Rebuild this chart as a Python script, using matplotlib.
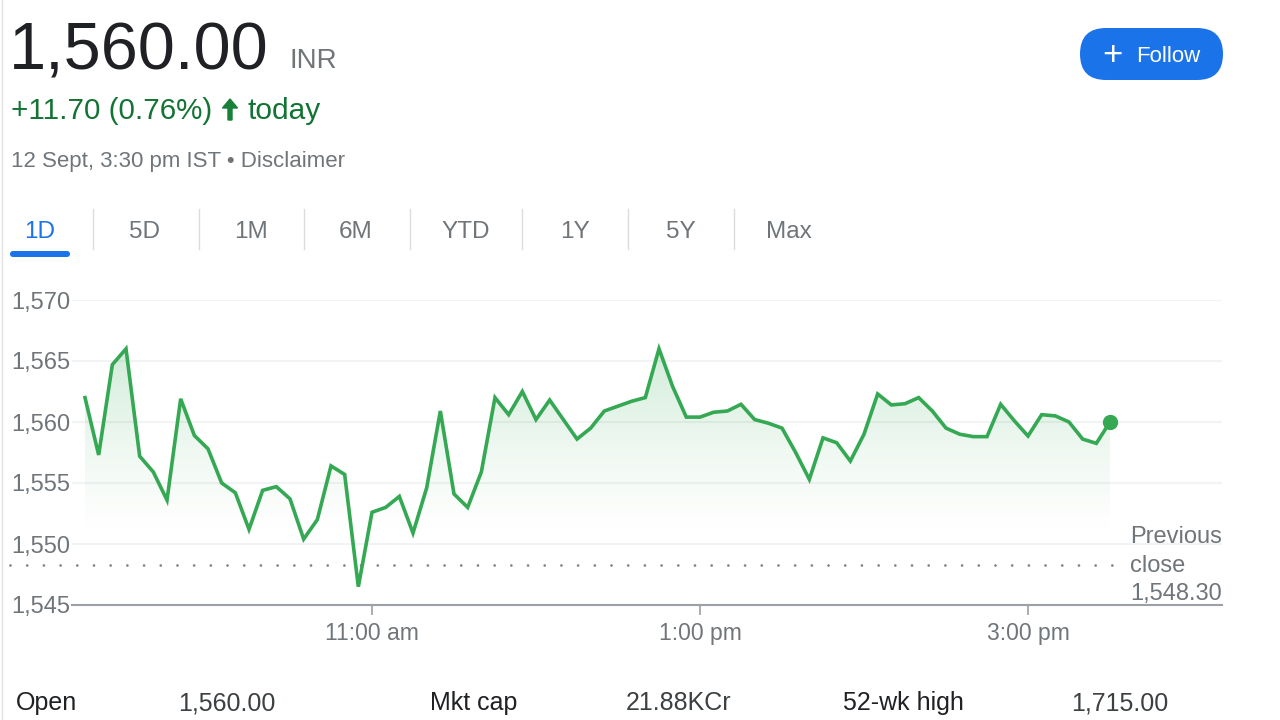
import numpy as np
import matplotlib.pyplot as plt
from matplotlib.colors import to_rgb
from matplotlib.patches import FancyBboxPatch, FancyArrow, PathPatch
from matplotlib.path import Path
from matplotlib.lines import Line2D
from matplotlib.transforms import blended_transform_factory

plt.rcParams['font.family'] = ['Liberation Sans', 'DejaVu Sans']

# 1D intraday prices, 5 minute steps from 9:15 am to 3:30 pm
prices = [1562.0, 1557.3, 1564.7, 1566.0, 1557.2, 1555.9, 1553.6, 1561.9, 1558.9, 1557.8,
          1555.0, 1554.2, 1551.2, 1554.4, 1554.7, 1553.7, 1550.4, 1552.0, 1556.4, 1555.7,
          1546.5, 1552.6, 1553.0, 1553.9, 1550.9, 1554.6, 1560.9, 1554.1, 1553.0, 1555.9,
          1562.0, 1560.6, 1562.5, 1560.2, 1561.8, 1560.2, 1558.6, 1559.5, 1560.9, 1561.3,
          1561.7, 1562.0, 1566.0, 1562.9, 1560.4, 1560.4, 1560.8, 1560.9, 1561.45, 1560.2,
          1559.9, 1559.5, 1557.5, 1555.3, 1558.7, 1558.3, 1556.8, 1559.0, 1562.3, 1561.4,
          1561.5, 1562.0, 1560.9, 1559.5, 1559.0, 1558.8, 1558.8, 1561.45, 1560.1, 1558.85,
          1560.6, 1560.5, 1560.0, 1558.6, 1558.25, 1560.0]
start_min = 9 * 60 + 15
minutes = start_min + 5 * np.arange(len(prices))

prev_close = 1548.30
y_ticks = [1545, 1550, 1555, 1560, 1565, 1570]
x_ticks = [11 * 60, 13 * 60, 15 * 60]
x_labels = ['11:00 am', '1:00 pm', '3:00 pm']

tabs = ['1D', '5D', '1M', '6M', 'YTD', '1Y', '5Y', 'Max']
stat_names = ['Open', 'Mkt cap', '52-wk high']
stat_values = ['1,560.00', '21.88KCr', '1,715.00']

GREEN = '#34a853'
W, H = 1280, 720


def fx(x):
    return x / W


def fy(y):
    return 1 - y / H


fig = plt.figure(figsize=(12.8, 7.2), dpi=100)
fig.patch.set_facecolor('white')

# --- header ---
fig.text(fx(9), fy(69), '1,560.00', fontsize=48, color='#202124', va='baseline')
fig.text(fx(289), fy(68), 'INR', fontsize=20, color='#70757a', va='baseline')
fig.text(fx(11), fy(119), '+11.70 (0.76%)', fontsize=21.3, color='#137333', va='baseline')
fig.patches.append(FancyArrow(2.30, (H - 120) / 100, 0, 0.21, width=0.04, head_width=0.15,
                              head_length=0.09, length_includes_head=True, color='#188038',
                              transform=fig.dpi_scale_trans))
fig.text(fx(248), fy(119), 'today', fontsize=21.5, color='#137333', va='baseline')
fig.text(fx(11), fy(167), '12 Sept, 3:30 pm IST \u2022 Disclaimer', fontsize=16,
         color='#70757a', va='baseline')

# follow button
fig.patches.append(FancyBboxPatch((10.80, (H - 80) / 100), 1.43, 0.52,
                                  boxstyle='round,pad=0,rounding_size=0.26',
                                  facecolor='#1a73e8', edgecolor='none',
                                  transform=fig.dpi_scale_trans))
fig.text(fx(1112), fy(56), '+', fontsize=25, color='white', ha='center', va='center')
fig.text(fx(1136), fy(62), 'Follow', fontsize=16, color='white', va='baseline')

# --- range tabs ---
tab_x = [40, 145, 251, 356, 466, 575, 681, 789]
sep_x = [93, 199, 304, 410, 522, 628, 734]
for name, x in zip(tabs, tab_x):
    fig.text(fx(x), fy(238), name, fontsize=17.5, ha='center', va='baseline',
             color='#1a73e8' if name == '1D' else '#70757a')
for x in sep_x:
    fig.lines.append(Line2D([fx(x), fx(x)], [fy(209), fy(249)], color='#dadce0', lw=1,
                            transform=fig.transFigure))
fig.patches.append(FancyBboxPatch((0.10, (H - 257) / 100), 0.60, 0.06,
                                  boxstyle='round,pad=0,rounding_size=0.03',
                                  facecolor='#1a73e8', edgecolor='none',
                                  transform=fig.dpi_scale_trans))

# left page edge
fig.lines.append(Line2D([fx(1.5), fx(1.5)], [0, 1], color='#e3e3e3', lw=1,
                        transform=fig.transFigure))

# --- chart ---
ax = fig.add_axes([fx(72), fy(605), (1222 - 72) / W, (605 - 300) / H])
px_per_min = 328 / 120
xlim = (start_min - 13 / px_per_min, 15 * 60 + 194 / px_per_min)

# gradient fill under the line
grad = np.linspace(0, 1, 256).reshape(-1, 1)
rgba = np.zeros((256, 1, 4))
rgba[..., :3] = to_rgb(GREEN)
rgba[..., 3] = 0.24 * grad ** 1.3
im = ax.imshow(rgba, extent=[minutes[0], minutes[-1], 1550.5, 1567], origin='lower',
               aspect='auto', zorder=1, interpolation='bilinear')
verts = [(minutes[0], 1545)] + list(zip(minutes, prices)) + [(minutes[-1], 1545)]
clip = PathPatch(Path(verts), facecolor='none', edgecolor='none', transform=ax.transData)
ax.add_patch(clip)
im.set_clip_path(clip)

ax.plot(minutes, prices, color=GREEN, lw=2.6, zorder=3, solid_joinstyle='miter')
ax.plot(minutes[-1], prices[-1], 'o', ms=10, color=GREEN, zorder=4, clip_on=False)

# previous close dotted line
trans = blended_transform_factory(fig.transFigure, ax.transData)
ax.plot([fx(10), fx(1120)], [prev_close, prev_close], transform=trans, clip_on=False,
        color='#80868b', lw=2, linestyle=(0, (0.01, 6)), dash_capstyle='round', zorder=2)
fig.text(fx(1130), fy(543), 'Previous', fontsize=17, color='#70757a', va='baseline')
fig.text(fx(1130), fy(572), 'close', fontsize=17, color='#70757a', va='baseline')
fig.text(fx(1130), fy(600), f'{prev_close:,.2f}', fontsize=17, color='#70757a', va='baseline')

ax.set_xlim(*xlim)
ax.set_ylim(y_ticks[0], y_ticks[-1])
ax.set_yticks(y_ticks)
ax.set_yticklabels([f'{v:,}' for v in y_ticks])
ax.set_xticks(x_ticks)
ax.set_xticklabels(x_labels)
ax.yaxis.grid(True, color='#f1f3f4', lw=1.5)
ax.set_axisbelow(True)
for side in ['top', 'right', 'left']:
    ax.spines[side].set_visible(False)
ax.spines['bottom'].set_color('#9aa0a6')
ax.spines['bottom'].set_linewidth(1.5)
ax.tick_params(axis='y', length=0, pad=1.5, labelsize=17, labelcolor='#70757a')
ax.tick_params(axis='x', length=7, width=1.2, color='#9aa0a6', pad=5.5, labelsize=16.5,
               labelcolor='#70757a')

# --- key stats row ---
for name, val, xn, xv in zip(stat_names, stat_values, [16, 430, 843], [178, 626, 1071]):
    fig.text(fx(xn), fy(710), name, fontsize=18, color='#202124', va='baseline')
    fig.text(fx(xv), fy(710), val, fontsize=18, color='#3c4043', va='baseline')

fig.savefig('out.png', dpi=100)
